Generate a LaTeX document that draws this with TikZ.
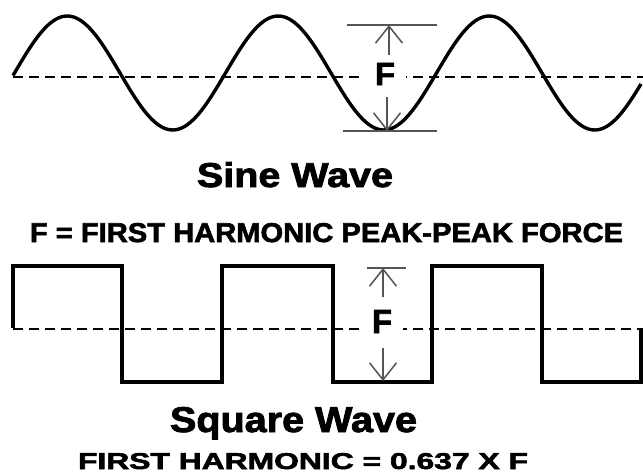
\documentclass[tikz,border=0pt]{standalone}
\usepackage{xcolor}
\definecolor{dimgray}{HTML}{555555}
\usepackage{fontspec}
\setmainfont{Liberation Sans}
\newfontfamily\heavyfont{Liberation Sans Bold}[FakeBold=2.2]
\usepackage{graphicx}
\usepackage{tikz}
\usetikzlibrary{arrows.meta}
% heavy caption stretched to a given width and cap height
\newcommand{\capbox}[3]{\resizebox{#1pt}{#2pt}{\heavyfont #3}}

\begin{document}
\begin{tikzpicture}[x=1pt, y=-1pt]
  \useasboundingbox[fill=white] (0,0) rectangle (643,474);
  \tikzset{
    wave/.style={line width=3.4pt, line join=miter},
    midline/.style={line width=1.6pt, dash pattern=on 10pt off 6pt},
    dimline/.style={draw=dimgray, line width=1.5pt},
    dimarrow/.style={draw=dimgray, line width=1.5pt,
      -{Straight Barb[length=17pt, width=27pt]}},
    caption/.style={anchor=base, inner sep=0pt},
    flabel/.style={anchor=base, fill=white, inner xsep=11pt, inner ysep=1pt}
  }
  % sine wave
  \draw[midline] (13,77) -- (643,77);
  \draw[wave] plot[domain=13:641, samples=220, smooth]
       (\x, {73 - 57*sin((\x-14.5)/211*360)});
  \coordinate (sinetop) at (389,25);
  \coordinate (sinebot) at (387,131);
  \draw[dimline] (347,25) -- (437,25);
  \draw[dimline] (343,131) -- (437,131);
  \node[flabel] (sineF) at (385,85) {\capbox{20}{22}{F}};
  \coordinate (sineFtop) at (389,55);
  \coordinate (sineFbot) at (387,97);
  \draw[dimarrow] (sineFtop) -- (sinetop);
  \draw[dimarrow] (sineFbot) -- (sinebot);
  \node[caption] (sinename) at (295,187) {\capbox{196}{25}{Sine Wave}};
  \node[caption] (sinedef) at (326.5,242)
       {\capbox{593}{19}{F = FIRST HARMONIC PEAK-PEAK FORCE}};

  % square wave
  \draw[midline] (13,329) -- (643,329);
  \draw[wave] (13,328) -- (13,266) -- (122,266) -- (122,382) -- (222,382)
       -- (222,266) -- (333,266) -- (333,382) -- (432,382) -- (432,266)
       -- (542,266) -- (542,382) -- (641,382) -- (641,328);
  \coordinate (sqtop) at (383,268);
  \coordinate (sqbot) at (383,381);
  \draw[dimline] (367,268) -- (406,268);
  \node[flabel] (sqF) at (382,333) {\capbox{20}{23}{F}};
  \coordinate (sqFtop) at (383,297);
  \coordinate (sqFbot) at (383,348);
  \draw[dimarrow] (sqFtop) -- (sqtop);
  \draw[dimarrow] (sqFbot) -- (sqbot);
  \node[caption] (sqname) at (293.5,432) {\capbox{247}{25}{Square Wave}};
  \node[caption] (sqdef) at (303,469)
       {\capbox{450}{16}{FIRST HARMONIC = 0.637 X F}};
\end{tikzpicture}
\end{document}
